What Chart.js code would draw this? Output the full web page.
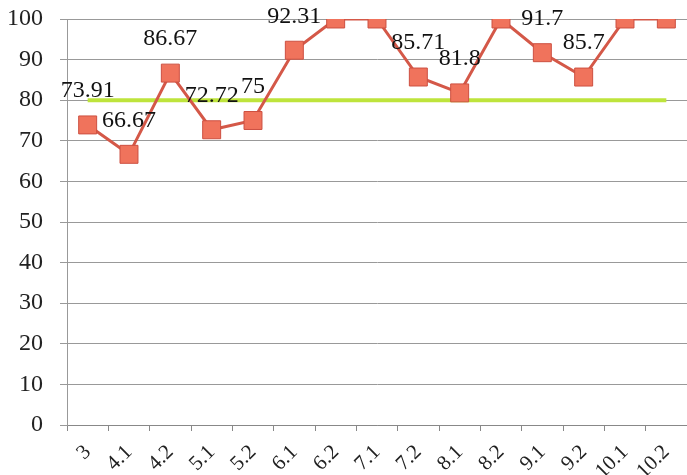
<!DOCTYPE html>
<html>
<head>
<meta charset="utf-8">
<script src="https://cdn.jsdelivr.net/npm/chart.js@4/dist/chart.umd.min.js"></script>
<style>
  html, body { margin: 0; padding: 0; background: #fff; overflow: hidden; }
  #wrap { width: 687px; height: 475px; }
</style>
</head>
<body>
<div id="wrap"><canvas id="chart"></canvas></div>
<script>
"use strict";
const categories = ["3", "4.1", "4.2", "5.1", "5.2", "6.1", "6.2", "7.1", "7.2", "8.1", "8.2", "9.1", "9.2", "10.1", "10.2"];
const scores = [73.91, 66.67, 86.67, 72.72, 75, 92.31, 100, 100, 85.71, 81.8, 100, 91.7, 85.7, 100, 100];
const target = [80, 80, 80, 80, 80, 80, 80, 80, 80, 80, 80, 80, 80, 80, 80];
const yTicks = { min: 0, max: 100, step: 10 };

const serif = "'Liberation Serif', 'DejaVu Serif', serif";

// draws the value above each point, like the spreadsheet's "above" labels
const valueLabels = {
    id: "valueLabels",
    afterDatasetsDraw(chart) {
        const ctx = chart.ctx;
        const meta = chart.getDatasetMeta(0);
        ctx.save();
        ctx.font = "24px " + serif;
        ctx.fillStyle = "#111";
        ctx.textAlign = "center";
        ctx.textBaseline = "middle";
        meta.data.forEach((pt, i) => {
            ctx.fillText(String(scores[i]), pt.x, pt.y - 34);
        });
        ctx.restore();
    }
};

const ctx = document.getElementById("chart").getContext("2d");
const chart = new Chart(ctx, {
    type: "line",
    data: {
        labels: categories,
        datasets: [
            {
                data: scores,
                borderColor: "rgb(212, 88, 72)",
                borderWidth: 3,
                pointStyle: "rect",
                pointRadius: 12.7,
                pointBackgroundColor: "rgb(240, 115, 92)",
                pointBorderColor: "rgb(205, 80, 65)",
                pointBorderWidth: 1,
                tension: 0,
            },
            {
                data: target,
                borderColor: "rgb(190, 228, 60)",
                borderWidth: 4,
                pointRadius: 0,
                tension: 0,
            },
        ],
    },
    options: {
        responsive: true,
        maintainAspectRatio: false,
        animation: false,
        layout: { autoPadding: false, padding: { top: 19, right: 0, left: 0, bottom: 0 } },
        plugins: {
            legend: { display: false },
            tooltip: { enabled: false },
        },
        scales: {
            x: {
                offset: true,
                afterFit: (scale) => {
                    scale.height = 50;
                    scale.paddingLeft = 0;
                    scale.paddingRight = 0;
                },
                border: { color: "#888", width: 1 },
                grid: {
                    offset: true,
                    drawOnChartArea: false,
                    drawTicks: true,
                    tickLength: 6,
                    color: "#888",
                },
                ticks: {
                    minRotation: 45,
                    maxRotation: 45,
                    autoSkip: false,
                    padding: 9,
                    color: "#222",
                    font: { family: serif, size: 21 },
                },
            },
            y: {
                min: yTicks.min,
                max: yTicks.max,
                afterFit: (scale) => {
                    scale.width = 67;
                    scale.paddingTop = 0;
                    scale.paddingBottom = 0;
                },
                border: { color: "#999", width: 1 },
                grid: {
                    color: "#999",
                    lineWidth: 1,
                    tickLength: 7,
                },
                ticks: {
                    stepSize: yTicks.step,
                    padding: 17,
                    color: "#222",
                    font: { family: serif, size: 24 },
                },
            },
        },
    },
    plugins: [valueLabels],
});
</script>
</body>
</html>
